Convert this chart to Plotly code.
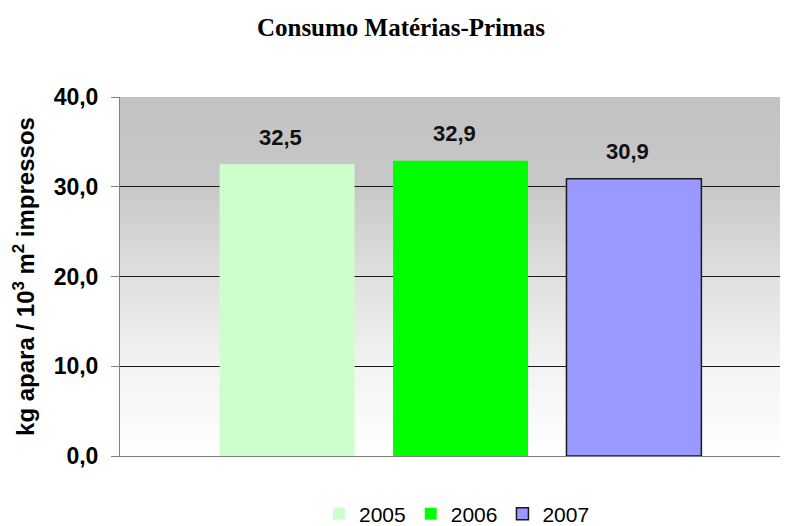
import base64
import plotly.graph_objects as go

years = ["2005", "2006", "2007"]
values = [32.5, 32.9, 30.9]
category = [""]
bar_colors = ["#CCFFCC", "#00FF00", "#9999FF"]
tick_vals = [0, 10, 20, 30, 40]

# page has an 8px body margin, so figure coords = page coords - 8
W, H = 780, 518
ml, mr, mt, mb = 112, 0, 89, 70
bargap, bargroupgap = 0.236, 0.222
px_unit = 681.0
x_lo, x_hi = -0.5, -0.5 + (W - ml - mr) / px_unit

fig = go.Figure()
for i, (yr, v, c) in enumerate(zip(years, values, bar_colors)):
    fig.add_trace(go.Bar(
        name=yr, x=category, y=[v],
        marker=dict(color=c,
                    line=dict(color="#1a1a1a" if i == 2 else c, width=1.5 if i == 2 else 0)),
        hoverinfo="skip",
    ))

# smooth gradient background via SVG image
svg = (
    '<svg xmlns="http://www.w3.org/2000/svg" width="100" height="400" preserveAspectRatio="none">'
    '<defs><linearGradient id="g" x1="0" y1="0" x2="0" y2="1">'
    '<stop offset="0" stop-color="#c2c2c2"/>'
    '<stop offset="0.25" stop-color="#c8c8c8"/>'
    '<stop offset="0.5" stop-color="#e0e0e0"/>'
    '<stop offset="0.75" stop-color="#f3f3f3"/>'
    '<stop offset="1" stop-color="#ffffff"/>'
    '</linearGradient></defs>'
    '<rect x="0" y="0" width="100" height="400" fill="url(#g)"/></svg>'
)
src = "data:image/svg+xml;base64," + base64.b64encode(svg.encode()).decode()
fig.add_layout_image(source=src, xref="paper", yref="paper", x=0, y=1, sizex=1, sizey=1,
                     xanchor="left", yanchor="top", sizing="stretch", layer="below")

# data labels above bars
slot = (1 - bargap) / len(years) * px_unit
for i, v in enumerate(values):
    fig.add_annotation(x=category[0], y=v, xref="x", yref="y",
                       text=f"{v:.1f}".replace(".", ","), showarrow=False,
                       xshift=(i - 1) * slot, yshift=27,
                       font=dict(family="Liberation Sans", size=22, color="#111", weight="bold"))

fig.update_layout(
    width=W, height=H,
    margin=dict(l=ml, r=mr, t=mt, b=mb, autoexpand=False),
    paper_bgcolor="white", plot_bgcolor="white",
    barmode="group", bargap=bargap, bargroupgap=bargroupgap,
    separators=",.",
    title=dict(text="<b>Consumo Matérias-Primas</b>", x=393 / W, xanchor="center", xref="container",
               y=1 - 19 / H, yanchor="middle", yref="container",
               font=dict(family="Liberation Serif", size=25, color="black")),
    showlegend=True,
    legend=dict(orientation="h", x=449 / W, xanchor="center", xref="container",
                y=1 - 506 / H, yanchor="middle", yref="container",
                font=dict(family="Liberation Sans", size=21, color="black"),
                itemwidth=30, tracegroupgap=0, bgcolor="rgba(0,0,0,0)"),
    xaxis=dict(range=[x_lo, x_hi], showticklabels=False, showgrid=False, zeroline=False,
               showline=True, linecolor="#808080", linewidth=1, ticks="", automargin=False),
    yaxis=dict(range=[0, 40], tickvals=tick_vals, tickformat=".1f", automargin=False,
               showgrid=True, gridcolor="#1a1a1a", gridwidth=1, zeroline=False,
               showline=True, linecolor="#808080", linewidth=1,
               ticks="outside", ticklen=8, tickcolor="#808080", ticklabelstandoff=8,
               tickfont=dict(family="Liberation Sans", size=23, color="black", weight="bold"),
               title=dict(text="kg apara / 10<sup>3</sup> m<sup>2</sup> impressos", standoff=12,
                          font=dict(family="Liberation Sans", size=24, color="black", weight="bold"))),
)

fig.write_html("out.html")
